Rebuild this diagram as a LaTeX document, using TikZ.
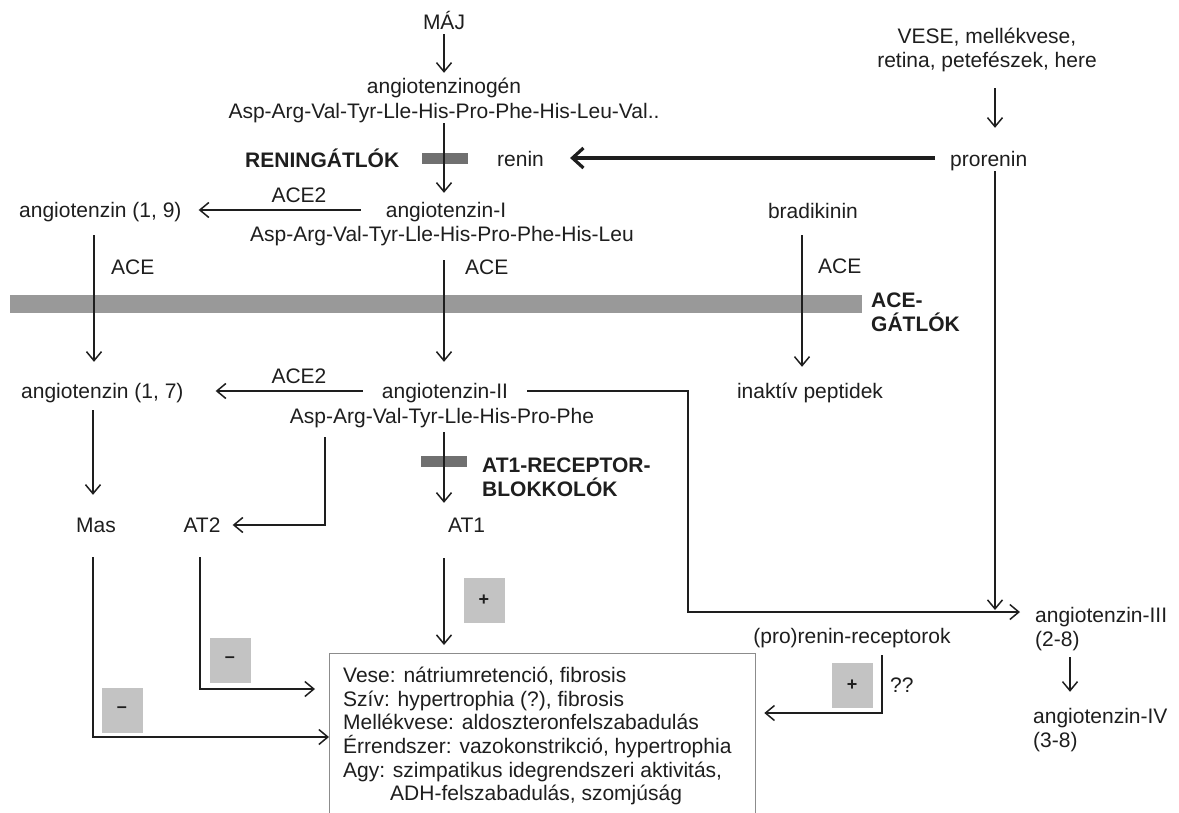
\documentclass[tikz,border=0pt]{standalone}
\usepackage{fontspec}
\setmainfont{Liberation Sans}
\usetikzlibrary{arrows.meta,calc}
\definecolor{ink}{HTML}{1E1E1E}
\definecolor{bandgray}{HTML}{999999}
\definecolor{bargray}{HTML}{707070}
\definecolor{signgray}{HTML}{C3C3C3}
\definecolor{boxgray}{HTML}{8C8C8C}
\begin{document}
\begin{tikzpicture}[x=1pt,y=-1pt,
  txt/.style={inner sep=0pt, text height=15pt, text depth=5pt, font=\fontsize{21}{24}\selectfont, text=ink, anchor=base},
  lbl/.style={txt, anchor=base west},
  blk/.style={txt, anchor=base west, font=\fontsize{21}{24}\selectfont\bfseries},
  arr/.style={draw=ink, line width=1.5pt, -{Straight Barb[length=9pt,width=15pt]}},
  bigarr/.style={draw=ink, line width=3.2pt, -{Straight Barb[length=11pt,width=20pt]}},
  bar/.style={fill=bargray, draw=none, minimum width=46pt, minimum height=11pt, inner sep=0pt},
  sign/.style={fill=signgray, draw=none, minimum width=41pt, minimum height=45pt, inner sep=0pt, font=\fontsize{18}{18}\selectfont\bfseries, text=ink},
]
\useasboundingbox (0,0) rectangle (1179,812);
\clip (0,0) rectangle (1179,812);
\fill[white] (0,0) rectangle (1179,812);

% column coordinates
\coordinate (colL) at (94,0);
\coordinate (colM) at (93,0);
\coordinate (colT) at (200,0);
\coordinate (colA) at (325,0);
\coordinate (colC) at (444,0);
\coordinate (colB) at (802,0);
\coordinate (colRec) at (882,0);
\coordinate (colR) at (995,0);
\coordinate (colIV) at (1070,0);
\coordinate (yMas) at (0,737);
\coordinate (yAt2) at (0,689);
\coordinate (yRec) at (0,713);
\coordinate (bendII) at (688,612);

% inhibitor band and bars
\node[fill=bandgray, draw=none, inner sep=0pt, minimum width=852pt, minimum height=18pt, anchor=north west] (band) at (10,295) {};
\node[bar] (rbar) at (445,158) {};
\node[bar] (atbar) at (444,461) {};

% text nodes
\node[txt] (maj) at (444,29) {MÁJ};
\node[txt] (agen) at (444,93) {angiotenzinogén};
\node[txt] (asp1) at (444,118) {Asp-Arg-Val-Tyr-Lle-His-Pro-Phe-His-Leu-Val..};
\node[blk] (rblk) at (245,167) {RENINGÁTLÓK};
\node[lbl] (renin) at (497,166) {renin};
\node[txt] (vese1) at (987,43) {VESE, mellékvese,};
\node[txt] (vese2) at (987,67) {retina, petefészek, here};
\node[lbl] (prorenin) at (950,166) {prorenin};
\node[txt] (ai) at (446,217) {angiotenzin-I};
\node[txt] (asp2) at (442,241) {Asp-Arg-Val-Tyr-Lle-His-Pro-Phe-His-Leu};
\node[lbl] (a19) at (19,217) {angiotenzin (1, 9)};
\node[txt] (ace2a) at (299,202) {ACE2};
\node[txt] (brad) at (813,218) {bradikinin};
\node[lbl] (aceL) at (111,274) {ACE};
\node[lbl] (aceC) at (465,274) {ACE};
\node[lbl] (aceR) at (818,273) {ACE};
\node[blk] (ag1) at (871,307) {ACE-};
\node[blk] (ag2) at (871,331) {GÁTLÓK};
\node[lbl] (a17) at (21,398) {angiotenzin (1, 7)};
\node[txt] (ace2b) at (299,383) {ACE2};
\node[txt] (aii) at (445,398) {angiotenzin-II};
\node[txt] (asp3) at (442,423) {Asp-Arg-Val-Tyr-Lle-His-Pro-Phe};
\node[txt] (inakt) at (810,398) {inaktív peptidek};
\node[blk] (atb1) at (482,472) {AT1-RECEPTOR-};
\node[blk] (atb2) at (482,496) {BLOKKOLÓK};
\node[txt] (mas) at (96,532) {Mas};
\node[txt] (at2) at (202,532) {AT2};
\node[lbl] (at1) at (448,532) {AT1};
\node[sign] (p1) at (484,600) {+};
\node[sign] (m1) at (230,660) {–};
\node[sign] (m2) at (122,710) {–};
\node[sign] (p2) at (852,685) {+};
\node[draw=boxgray, line width=1.3pt, anchor=north west, minimum width=426pt, minimum height=200pt, inner sep=0pt] (box) at (329,653) {};
\node[anchor=north west, inner sep=0pt, align=left, font=\fontsize{21}{23.6}\selectfont, text=ink] (eff) at (343,667)
  {Vese: nátriumretenció, fibrosis\\
   Szív: hypertrophia (?), fibrosis\\
   Mellékvese: aldoszteronfelszabadulás\\
   Érrendszer: vazokonstrikció, hypertrophia\\
   Agy: szimpatikus idegrendszeri aktivitás,\\
   \hspace*{47pt}ADH-felszabadulás, szomjúság};
\node[txt] (rec) at (852,643) {(pro)renin-receptorok};
\node[lbl] (qq) at (890,692) {??};
\node[lbl] (aiii) at (1035,622) {angiotenzin-III};
\node[lbl] (a28) at (1035,646) {(2-8)};
\node[lbl] (aiv) at (1033,723) {angiotenzin-IV};
\node[lbl] (a38) at (1033,747) {(3-8)};

% connectors
\draw[arr] (maj.south) -- ([yshift=5pt]agen.north);
\draw[arr] (asp1.south) -- ([yshift=9pt]ai.north -| asp1.south);
\draw[bigarr] ([xshift=-15pt,yshift=3pt]prorenin.west) -- ([xshift=26pt,yshift=3pt]renin.east);
\draw[arr] ([yshift=-16pt]vese2.south -| colR) -- ([yshift=23pt]prorenin.north -| colR);
\draw[arr] ([xshift=-25pt,yshift=2pt]ai.west) -- ([xshift=17pt,yshift=2pt]a19.east);
\draw[arr] ([yshift=-13pt]a19.south -| colL) -- ([yshift=21pt]a17.north -| colL);
\draw[arr] ([yshift=-14pt]asp2.south -| colC) -- ([yshift=21pt]aii.north -| colC);
\draw[arr] ([yshift=-12pt]brad.south -| colB) -- ([yshift=16pt]inakt.north -| colB);
\draw[arr] ([xshift=-19pt,yshift=2pt]aii.west) -- ([xshift=32pt,yshift=2pt]a17.east);
\draw[arr] ([yshift=-7pt]a17.south -| colM) -- ([yshift=22pt]mas.north -| colM);
\draw[arr] ([yshift=-9pt]asp3.south -| colA) |- ([xshift=12pt,yshift=2pt]at2.east);
\draw[arr] ([yshift=-4pt]asp3.south -| colC) -- ([yshift=14pt]at1.north -| colC);
\draw[arr] ([yshift=-20pt]mas.south -| colM) |- (box.west |- yMas);
\draw[arr] ([yshift=-20pt]at2.south -| colT) |- ([xshift=-14pt]box.west |- yAt2);
\draw[arr] ([yshift=-21pt]at1.south -| colC) -- ([yshift=8pt]box.north -| colC);
\draw[arr] ([xshift=19pt,yshift=2pt]aii.east) -| (bendII) -- ([xshift=-15pt,yshift=5pt]aiii.west);
\draw[arr] (prorenin.south -| colR) -- ([yshift=2pt]bendII -| colR);
\draw[arr] ([yshift=-7pt]rec.south -| colRec) |- ([xshift=8pt]box.east |- yRec);
\draw[arr] ([yshift=-6pt]a28.south -| colIV) -- ([yshift=16pt]aiv.north -| colIV);
\end{tikzpicture}
\end{document}
